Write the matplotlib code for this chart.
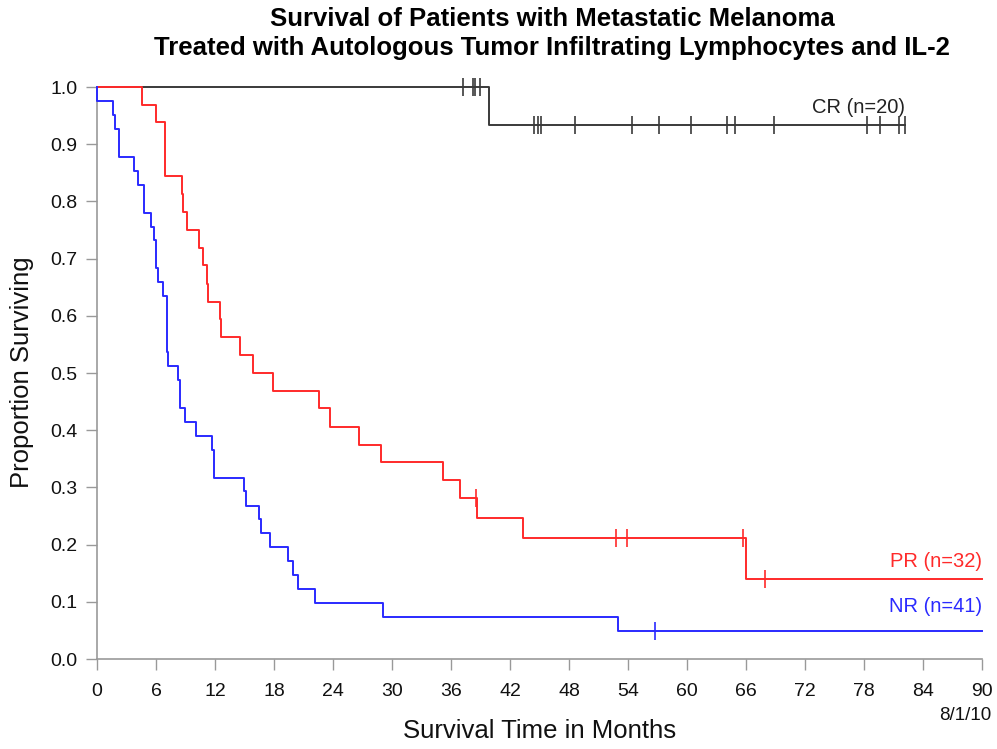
import matplotlib
matplotlib.use("Agg")
import matplotlib.pyplot as plt
import numpy as np

plt.rcParams['font.family'] = ['Liberation Sans', 'DejaVu Sans']

# ---- data ----
cr_times = [0.0, 39.9]
cr_surv = [1.0, 0.933]
cr_end = 82.2
cr_censor = [37.2, 38.2, 38.45, 38.9, 44.4, 44.8, 45.2, 48.6, 54.4, 57.2,
             60.4, 64.1, 64.9, 68.8, 78.3, 79.6, 81.6, 82.2]

pr_times = [0.0, 4.55, 5.95, 6.9, 8.65, 8.75, 9.2, 10.4, 10.8, 11.2, 11.3,
            12.5, 12.6, 14.5, 15.9, 17.9, 22.6, 23.7, 26.6, 28.9, 35.2, 36.9,
            38.6, 43.35, 65.97]
pr_surv = [1.0, 0.969, 0.938, 0.844, 0.813, 0.781, 0.750, 0.719, 0.688, 0.656,
           0.625, 0.594, 0.563, 0.531, 0.500, 0.469, 0.438, 0.406, 0.375, 0.344,
           0.313, 0.281, 0.246, 0.211, 0.140]
pr_end = 90.0
pr_censor = [38.5, 52.8, 53.9, 65.7, 67.9]

nr_times = [0.0, 0.05, 1.6, 1.85, 2.25, 3.8, 4.2, 4.8, 5.45, 5.75, 5.97, 6.2,
            6.75, 7.08, 7.15, 7.25, 8.27, 8.45, 8.9, 10.1, 11.7, 11.9, 14.9,
            15.2, 16.5, 16.7, 17.6, 19.4, 19.9, 20.4, 22.2, 29.1, 53.0]
nr_surv = [1.0, 0.976, 0.951, 0.927, 0.878, 0.854, 0.829, 0.780, 0.756, 0.732,
           0.683, 0.659, 0.634, 0.585, 0.537, 0.512, 0.488, 0.439, 0.415, 0.390,
           0.366, 0.317, 0.293, 0.268, 0.244, 0.220, 0.195, 0.171, 0.146, 0.122,
           0.098, 0.073, 0.049]
nr_end = 90.0
nr_censor = [56.7]

x_ticks = list(range(0, 91, 6))
y_ticks = [0.0, 0.1, 0.2, 0.3, 0.4, 0.5, 0.6, 0.7, 0.8, 0.9, 1.0]

groups = [
    ("CR (n=20)", cr_times, cr_surv, cr_end, cr_censor, "#3a3a3a"),
    ("PR (n=32)", pr_times, pr_surv, pr_end, pr_censor, "#ff2a2a"),
    ("NR (n=41)", nr_times, nr_surv, nr_end, nr_censor, "#2a2aff"),
]

W, H = 997, 749
fig = plt.figure(figsize=(W / 100, H / 100), dpi=100)
ax = fig.add_axes([97 / W, 1 - 659 / H, (982 - 97) / W, (659 - 87) / H])

for label, t, s, end, cens, col in groups:
    tt = list(t) + [end]
    ss = list(s) + [s[-1]]
    ax.step(tt, ss, where='post', color=col, lw=1.4, clip_on=False, zorder=3)
    cy = [s[np.searchsorted(t, c, side='right') - 1] for c in cens]
    ax.plot(cens, cy, ls='none', marker='|', markersize=13,
            markeredgewidth=1.2, color=col, clip_on=False, zorder=4)

ax.text(82.2, 0.964, "CR (n=20)", color="#222222", ha='right', va='center', fontsize=14.5)
ax.text(90, 0.171, "PR (n=32)", color="#ff2a2a", ha='right', va='center', fontsize=14.5)
ax.text(90, 0.091, "NR (n=41)", color="#2a2aff", ha='right', va='center', fontsize=14.5)

ax.set_xlim(0, 90)
ax.set_ylim(0, 1)
ax.set_xticks(x_ticks)
ax.set_xticklabels([str(v) for v in x_ticks])
ax.set_yticks(y_ticks)
ax.set_yticklabels([f"{v:.1f}" for v in y_ticks])
for sp in ['top', 'right']:
    ax.spines[sp].set_visible(False)
for sp in ['left', 'bottom']:
    ax.spines[sp].set_color('#999999')
    ax.spines[sp].set_linewidth(1.2)
ax.tick_params(axis='both', length=8, width=1.0, color='#999999',
               labelsize=14, labelcolor='#111111')
ax.tick_params(axis='x', pad=9)
ax.tick_params(axis='y', pad=6)

fig.text(540 / W, 1 - 731 / H, "Survival Time in Months", fontsize=18.5,
         ha='center', va='center', color='#111111')
fig.text(22 / W, 1 - 372 / H, "Proportion Surviving", fontsize=18.5,
         ha='center', va='center', rotation=90, color='#111111')

fig.text(552 / W, 1 - 7 / H, "Survival of Patients with Metastatic Melanoma\nTreated with Autologous Tumor Infiltrating Lymphocytes and IL-2",
         ha='center', va='top', fontsize=18.5, fontweight='bold', linespacing=1.25)
fig.text(991 / W, 1 - 716 / H, "8/1/10", ha='right', va='center', fontsize=13.5,
         color='#111111')

fig.savefig("out.png", dpi=100)
